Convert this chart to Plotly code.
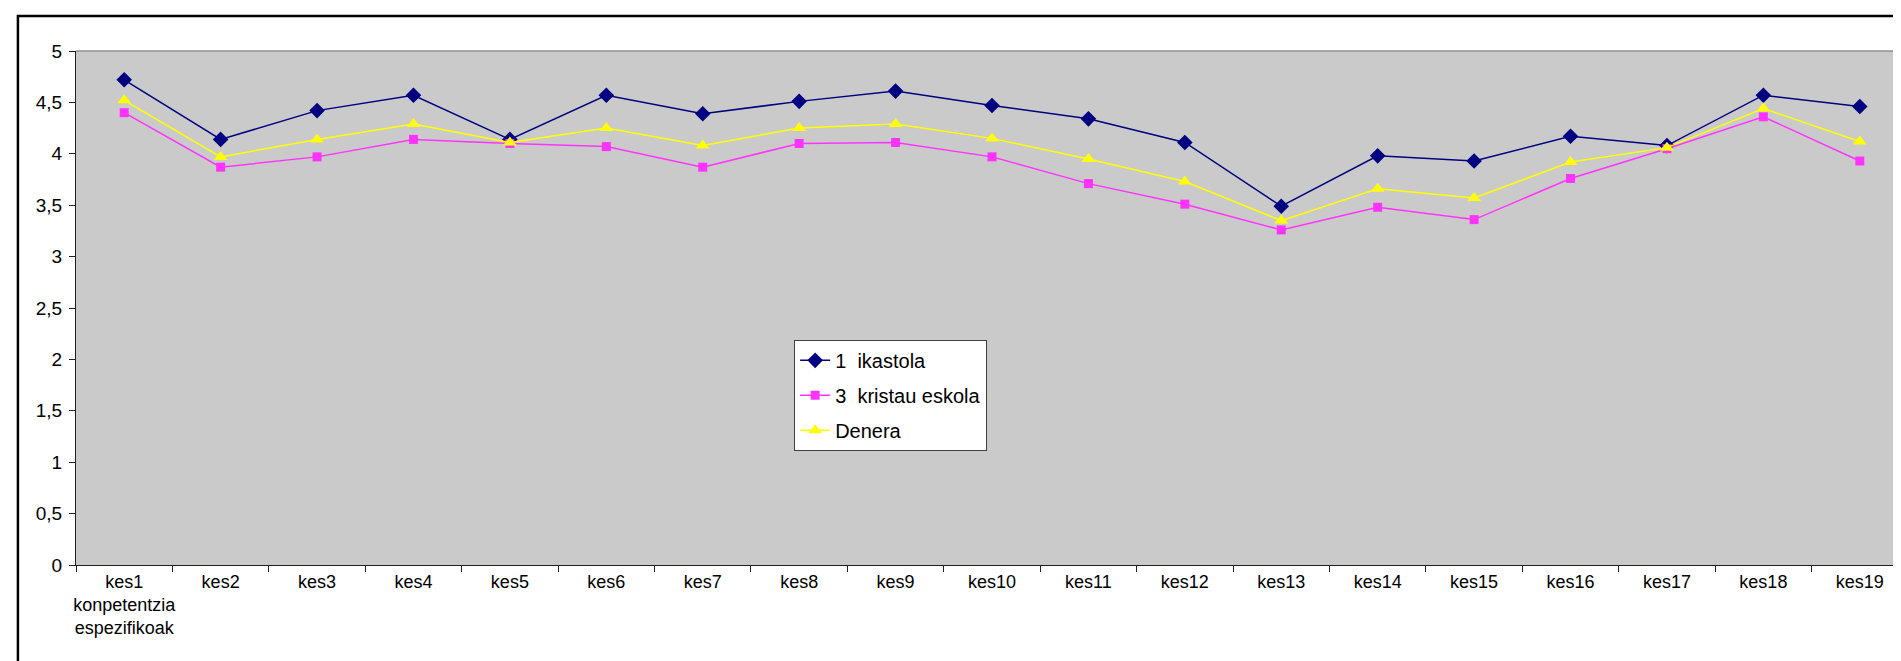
import plotly.graph_objects as go

categories = ["kes1<br>konpetentzia<br>espezifikoak", "kes2", "kes3", "kes4", "kes5", "kes6", "kes7",
              "kes8", "kes9", "kes10", "kes11", "kes12", "kes13", "kes14", "kes15",
              "kes16", "kes17", "kes18", "kes19"]

ikastola = [4.72, 4.14, 4.42, 4.57, 4.14, 4.57, 4.39, 4.51, 4.61, 4.47,
            4.34, 4.11, 3.49, 3.98, 3.93, 4.17, 4.08, 4.57, 4.46]
kristau = [4.40, 3.87, 3.97, 4.14, 4.10, 4.07, 3.87, 4.10, 4.11, 3.97,
           3.71, 3.51, 3.26, 3.48, 3.36, 3.76, 4.05, 4.36, 3.93]
denera = [4.52, 3.97, 4.14, 4.29, 4.11, 4.25, 4.08, 4.25, 4.29, 4.15,
          3.95, 3.73, 3.35, 3.66, 3.57, 3.92, 4.06, 4.44, 4.12]

ytick_vals = [0, 0.5, 1, 1.5, 2, 2.5, 3, 3.5, 4, 4.5, 5]
ytick_text = ["0", "0,5", "1", "1,5", "2", "2,5", "3", "3,5", "4", "4,5", "5"]

series_names = ["1 \u00a0ikastola", "3 \u00a0kristau eskola", "Denera"]

FONT = "Arial, Liberation Sans, sans-serif"

fig = go.Figure()
fig.add_trace(go.Scatter(x=categories, y=ikastola, name=series_names[0], mode="lines+markers",
                         legendgroup="a",
                         line=dict(color="#000080", width=1.5),
                         marker=dict(symbol="diamond", size=12, color="#000080")))
fig.add_trace(go.Scatter(x=categories, y=kristau, name=series_names[1], mode="lines+markers",
                         legendgroup="b",
                         line=dict(color="#FF33FF", width=1.5),
                         marker=dict(symbol="square", size=9, color="#FF33FF")))
fig.add_trace(go.Scatter(x=categories, y=denera, name=series_names[2], mode="lines+markers",
                         legendgroup="c",
                         line=dict(color="#FFFF00", width=1.5),
                         marker=dict(symbol="triangle-up", size=12, color="#FFFF00")))

fig.update_layout(
    width=1901, height=661,
    margin=dict(l=68, r=1, t=43, b=104),
    paper_bgcolor="white",
    plot_bgcolor="#CACACA",
    font=dict(family=FONT, size=18, color="black"),
    showlegend=True,
    legend=dict(x=0.392, y=0.438, xanchor="left", yanchor="top",
                bgcolor="white", bordercolor="#404040", borderwidth=1,
                font=dict(family=FONT, size=20, color="black"),
                tracegroupgap=6),
    xaxis=dict(type="category", range=[-0.5, 18.5], tickson="boundaries",
               tickangle=0,
               ticks="outside", ticklen=6, tickcolor="#202020",
               showline=True, linecolor="#202020", linewidth=1,
               showgrid=False, zeroline=False,
               tickfont=dict(family=FONT, size=18, color="black")),
    yaxis=dict(range=[0, 5], tickvals=ytick_vals, ticktext=ytick_text,
               ticks="outside", ticklen=6, tickcolor="#202020",
               ticklabelstandoff=3,
               showline=True, linecolor="#202020", linewidth=1,
               showgrid=False, zeroline=False,
               tickfont=dict(family=FONT, size=19, color="black")),
    shapes=[
        dict(type="line", xref="paper", yref="paper", x0=0, x1=1, y0=1, y1=1,
             line=dict(color="#909090", width=1.5)),
        dict(type="line", xref="paper", yref="paper", x0=1, x1=1, y0=0, y1=1,
             line=dict(color="#909090", width=1.5)),
        dict(type="rect", xref="paper", yref="paper", x0=-0.0317, x1=1.01, y0=-0.23, y1=1.068,
             line=dict(color="black", width=2.5), fillcolor="rgba(0,0,0,0)"),
    ],
)

fig.write_html("out.html")
